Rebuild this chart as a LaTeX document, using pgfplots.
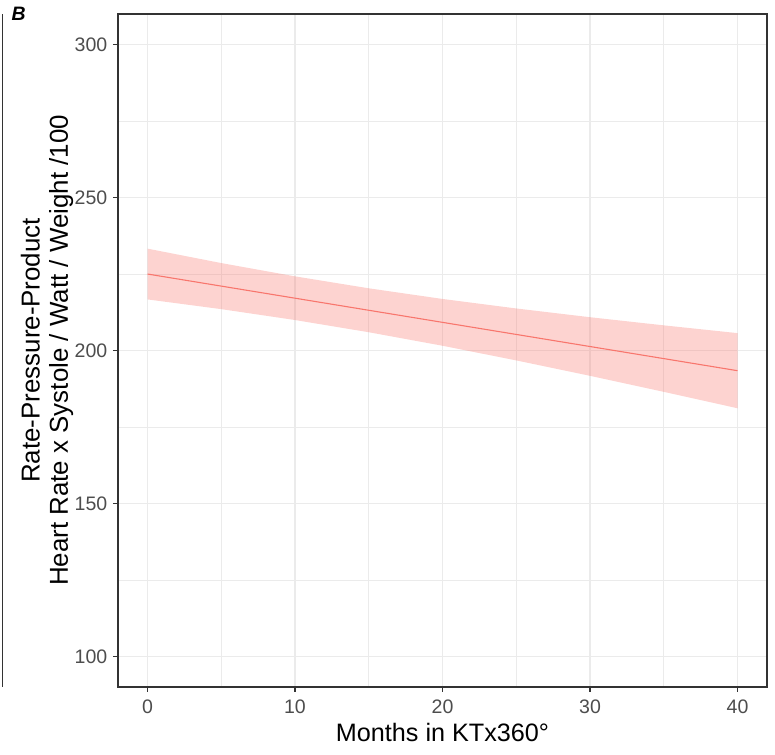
\documentclass[border=0pt]{standalone}
\usepackage{pgfplots}
\pgfplotsset{compat=1.18}
\usepackage{pgfplotstable}
\usepackage{fontspec}
\setmainfont{Liberation Sans}

\definecolor{fitred}{HTML}{F8766D}
\definecolor{gridc}{HTML}{EBEBEB}
\definecolor{framec}{HTML}{333333}
\definecolor{tickc}{HTML}{4D4D4D}

% linear trend of the rate-pressure product
\pgfplotstableread{
x   fit
0   225.00
5   221.05
10  217.10
15  213.15
20  209.20
25  205.25
30  201.30
35  197.35
40  193.40
}\rppfit

% outline of its confidence band: upper limit forward, lower limit back
\pgfplotstableread{
x   y
0   233.30
5   228.58
10  224.24
15  220.33
20  216.85
25  213.74
30  210.88
35  208.22
40  205.68
40  181.12
35  186.48
30  191.72
25  196.76
20  201.55
15  205.97
10  209.96
5   213.52
0   216.70
}\rppband

\begin{document}
\begin{tikzpicture}
\useasboundingbox (0bp,0bp) rectangle (775bp,755bp);
% edge of the neighbouring panel
\draw[framec, line width=1.1bp] (2.7bp,68bp) -- (2.7bp,741bp);
\node[anchor=base west, inner sep=0pt, font=\bfseries\itshape\fontsize{19.5}{21}\selectfont] at (11.5bp,734bp) {B};
\begin{axis}[
  at={(118bp,68bp)}, anchor=south west,
  scale only axis, width=649bp, height=673bp,
  xmin=-2, xmax=42, ymin=90, ymax=310,
  xtick={0,10,20,30,40}, ytick={100,150,200,250,300},
  minor xtick={5,15,25,35}, minor ytick={125,175,225,275},
  grid=both,
  major grid style={gridc, line width=1.1bp},
  minor grid style={gridc, line width=0.55bp},
  axis line style={framec, line width=1.1bp},
  tick align=outside, major tick length=5bp, minor tick length=0bp,
  major tick style={framec, line width=1.1bp},
  xtick pos=bottom, ytick pos=left,
  ticklabel style={font=\fontsize{19.6}{22}\selectfont, text=tickc, inner sep=0pt},
  xticklabel style={anchor=north, yshift=-8bp},
  yticklabel style={anchor=east, xshift=-5.5bp},
  /pgf/number format/assume math mode=true,
  xlabel={Months in KTx360°},
  xlabel style={at={(axis description cs:0.5,0)}, anchor=base, yshift=-54.7bp,
    inner sep=0pt, font=\fontsize{25.3}{28}\selectfont},
  ylabel={Rate-Pressure-Product\\Heart Rate x Systole / Watt / Weight /100},
  ylabel style={at={(axis description cs:-0.0686,0.5)}, anchor=south,
    align=center, inner sep=0pt, font=\fontsize{26}{28.3}\selectfont},
]
\addplot[fill=fitred, fill opacity=0.32, draw=none] table[x=x, y=y] {\rppband} -- cycle;
\addplot[fitred, line width=1.1bp] table[x=x, y=fit] {\rppfit};
\end{axis}
\end{tikzpicture}
\end{document}
